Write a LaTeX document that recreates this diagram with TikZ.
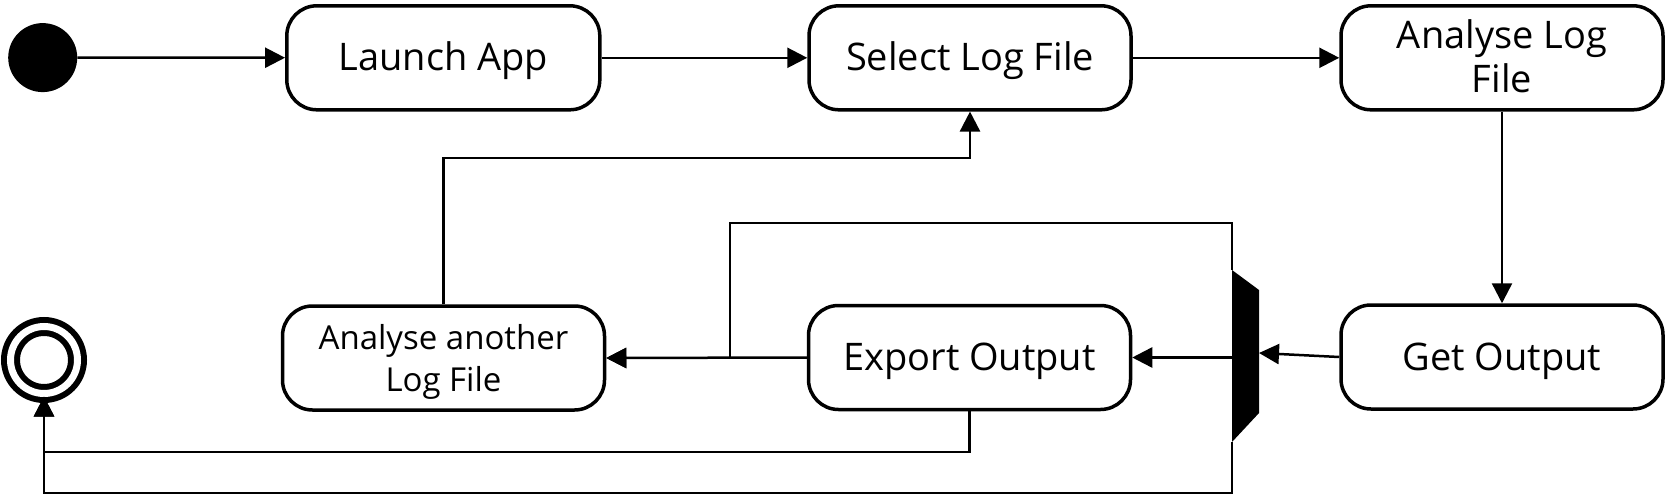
\documentclass[tikz,border=0pt]{standalone}
\usepackage{fontspec}
\setmainfont{Open Sans}
\usetikzlibrary{arrows.meta}

\begin{document}
\begin{tikzpicture}[x=1pt, y=-1pt,  % Use pixel-like units, y grows downwards
    activity/.style={draw, line width=3.5pt, rounded corners=30pt, minimum width=322pt,
        minimum height=104pt, inner sep=0pt, align=center, font=\fontsize{38}{44}\selectfont},
    oneline/.style={text height=35pt, text depth=9pt},
    smalltext/.style={font=\fontsize{33}{42}\selectfont},
    flow/.style={line width=2.5pt, -{Triangle[length=20pt,width=20pt]}}]
    \useasboundingbox (0,0) rectangle (1666,495);

    % Draw the start and end states
    \node[circle, fill=black, minimum size=69pt, inner sep=0pt] (start) at (42.7,57.6) {};
    \node[circle, draw, line width=6pt, double=white, double distance=7pt,
        minimum size=67pt, inner sep=0pt] (final) at (44,360) {};

    % Draw the activities
    \node[activity, oneline, minimum width=313pt] (launch) at (443.3,57.8) {Launch App};
    \node[activity, oneline] (select) at (970,57.8) {Select Log File};
    \node[activity] (analyse) at (1502,57.8) {Analyse Log\\File\rule[-4pt]{0pt}{4pt}};
    \node[activity, oneline] (getout) at (1502,357) {Get Output};
    \node[activity, oneline] (export) at (969.5,357.5) {Export Output};
    \node[activity, smalltext] (another) at (443.5,358) {\rule{0pt}{32pt}Analyse another\\Log File};

    % Draw the fork bar
    \node[inner sep=0pt, outer sep=0pt, minimum width=27pt, minimum height=172pt] (fork) at (1245.5,356) {};
    \fill (fork.north west) -- ([yshift=-20pt]fork.north east) -- ([yshift=29pt]fork.south east)
        -- (fork.south west) -- cycle;

    % Bend points
    \coordinate (loopback) at (443.5,158);
    \coordinate (topbend) at (730,223);
    \coordinate (midrail) at (44,452);
    \coordinate (lowrail) at (44,493);

    % Draw the flows
    \draw[flow] (start) -- (launch);
    \draw[flow] (launch) -- (select);
    \draw[flow] (select) -- (analyse);
    \draw[flow] (analyse) -- (getout);
    \draw[flow] (getout.west) -- ([yshift=3pt]fork.east);
    \draw[flow] (fork.west |- export.east) -- (export.east);
    \draw[flow] (export.west) -- (another.east);
    \draw[flow] (fork.north west) |- (topbend) |- (another.east);
    \draw[flow] (another.north) -- (loopback) -| (select.south);
    \draw[flow] (export.south) |- (midrail) -- (final);
    \draw[flow] (fork.south west) |- (lowrail) -- (final);
\end{tikzpicture}
\end{document}
